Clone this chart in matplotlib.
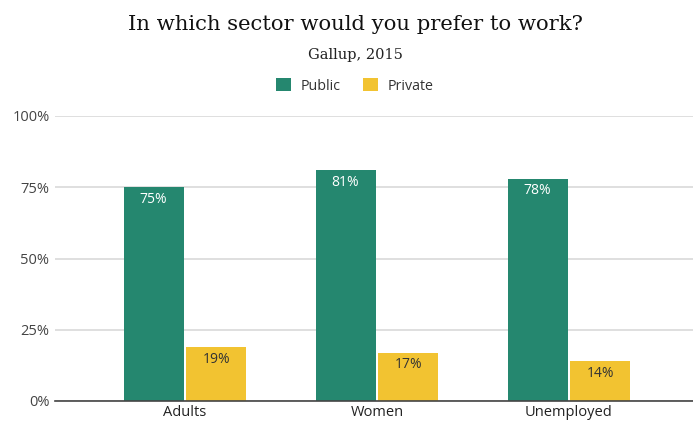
import matplotlib
matplotlib.use("Agg")
import matplotlib.pyplot as plt
import numpy as np

categories = ["Adults", "Women", "Unemployed"]
public = [75, 81, 78]
private = [19, 17, 14]
series_names = ["Public", "Private"]
yticks = [0, 25, 50, 75, 100]
ytick_labels = ["0%", "25%", "50%", "75%", "100%"]

GREEN = "#25876f"
YELLOW = "#f2c331"
SANS = ["Open Sans", "DejaVu Sans"]
SERIF = ["DejaVu Serif"]

W, H = 693, 421
fig = plt.figure(figsize=(W / 100, H / 100), dpi=100)
ax = fig.add_axes([55 / W, 20 / H, 1 - 55 / W, (401 - 116) / H])

x = np.arange(len(categories))
bw = 0.3125
off = 0.164
b1 = ax.bar(x - off, public, bw, color=GREEN, label=series_names[0], zorder=3)
b2 = ax.bar(x + off, private, bw, color=YELLOW, label=series_names[1], zorder=3)

for rect, v in zip(b1, public):
    ax.text(rect.get_x() + rect.get_width() / 2, v - 4.3, f"{v}%", ha="center", va="center",
            color="white", fontsize=10, family=SANS, zorder=4)
for rect, v in zip(b2, private):
    ax.text(rect.get_x() + rect.get_width() / 2, v - 4.3, f"{v}%", ha="center", va="center",
            color="#333333", fontsize=10, family=SANS, zorder=4)

ax.set_xlim((55 - 185) / 192, (693 - 185) / 192)
ax.set_ylim(0, 100)
ax.set_yticks(yticks)
ax.set_yticklabels(ytick_labels, family=SANS, fontsize=10.5, color="#444444")
ax.set_xticks(x)
ax.set_xticklabels(categories, family=SANS, fontsize=10.5, color="#222222")
ax.tick_params(length=0, pad=4)
ax.tick_params(axis="x", pad=3)
ax.grid(axis="y", color="#d9d9d9", linewidth=1.2, zorder=0)
for s in ["top", "right", "left"]:
    ax.spines[s].set_visible(False)
ax.spines["bottom"].set_color("#444444")
ax.spines["bottom"].set_linewidth(1.2)
ax.spines["bottom"].set_zorder(5)

fig.text(355 / W, 1 - 25 / H, "In which sector would you prefer to work?", ha="center", va="center",
         family=SERIF, fontsize=15.2, color="#111111")
fig.text(355 / W, 1 - 55 / H, "Gallup, 2015", ha="center", va="center",
         family=SERIF, fontsize=10.5, color="#222222")

leg = fig.legend(handles=[b1, b2], labels=series_names, loc="center", bbox_to_anchor=(355 / W, 1 - 86 / H),
                 ncol=2, frameon=False, prop={"family": SANS, "size": 10.3}, handlelength=1.0,
                 handleheight=1.0, handletextpad=0.7, columnspacing=1.6)
for t in leg.get_texts():
    t.set_color("#333333")

fig.savefig("out.png", dpi=100, facecolor="white")
